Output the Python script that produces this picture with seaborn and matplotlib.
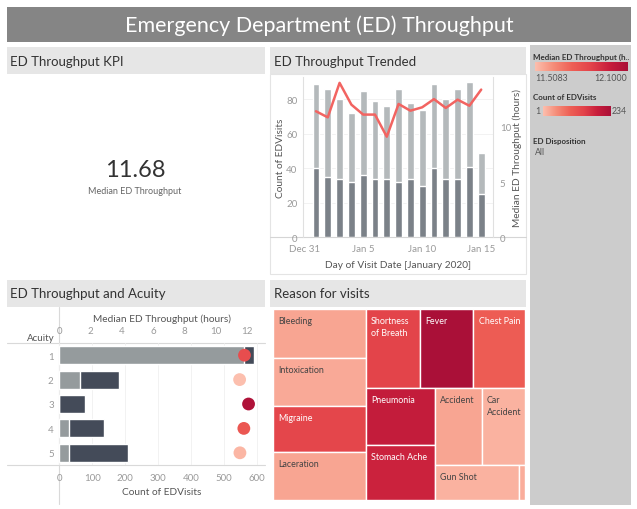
import numpy as np
import pandas as pd
import matplotlib
matplotlib.use("Agg")
import matplotlib.pyplot as plt
import seaborn as sns
from matplotlib.colors import LinearSegmentedColormap
from matplotlib.patches import Rectangle

# ---------------- data ----------------
title = "Emergency Department (ED) Throughput"

days = list(range(1, 16))                      # January 1..15, 2020 (0 = Dec 31)
day_tick_pos = [0, 5, 10, 15]
day_tick_labels = ["Dec 31", "Jan 5", "Jan 10", "Jan 15"]
visits_dark = [40, 35, 34, 32, 36, 34, 34, 32, 34, 30, 40, 34, 34, 41, 25]
visits_light = [49, 51, 46, 40, 49, 45, 42, 54, 44, 44, 49, 46, 52, 49, 24]
median_hours_daily = [11.4, 10.85, 13.97, 12.0, 11.1, 11.1, 9.1, 12.06,
                      11.45, 11.76, 12.5, 11.7, 12.45, 11.9, 13.36]

acuity_levels = ["1", "2", "3", "4", "5"]
acuity_light = [561, 63, 0, 29, 29]
acuity_dark = [31, 118, 79, 106, 181]
acuity_median_hours = [11.82, 11.51, 12.08, 11.78, 11.53]

reasons = ["Bleeding", "Intoxication", "Migraine", "Laceration",
           "Shortness of Breath", "Fever", "Chest Pain",
           "Pneumonia", "Stomach Ache", "Accident", "Car Accident",
           "Gun Shot", "Other"]
reason_counts = [114, 111, 106, 110, 107, 105, 102, 98, 95, 89, 83, 73, 5]
reason_median_hours = [11.57, 11.56, 11.85, 11.57, 11.86, 12.10, 11.76,
                       12.00, 11.97, 11.57, 11.54, 11.54, 11.55]

kpi_value = 11.68
color_min, color_max = 11.5083, 12.1000
count_min, count_max = 1, 234

# ---------------- styling ----------------
sns.set_theme(style="white")
plt.rcParams['font.family'] = ['Lato', 'DejaVu Sans']

W, H = 637, 510
fig = plt.figure(figsize=(W / 100, H / 100), dpi=100)
fig.patch.set_facecolor("white")

red_cmap = LinearSegmentedColormap.from_list(
    "tab_red", ["#fcbfae", "#f58c78", "#ee5f55", "#e3434a", "#c81e3c", "#aa1038"])
LIGHT_BAR = "#b4b9bb"
DARK_BAR = "#7b8188"
ACU_LIGHT = "#959b9d"
ACU_DARK = "#444b59"
TICK_C = "#9a9a9a"
LABEL_C = "#555555"


def px_axes(x0, y0, x1, y1, **kw):
    return fig.add_axes([x0 / W, 1 - y1 / H, (x1 - x0) / W, (y1 - y0) / H], **kw)


bg = px_axes(0, 0, W, H)
bg.set_xlim(0, W)
bg.set_ylim(H, 0)
bg.axis("off")

# title bar
bg.add_patch(Rectangle((7, 8), 624, 35, color="#858585", lw=0))
bg.text(319, 26, title, color="white", fontsize=15.5, ha="center", va="center")

# panel headers
for (hx, hy, hw, txt) in [(7, 48, 258, "ED Throughput KPI"),
                           (270, 48, 256, "ED Throughput Trended"),
                           (7, 281, 258, "ED Throughput and Acuity"),
                           (270, 281, 256, "Reason for visits")]:
    bg.add_patch(Rectangle((hx, hy), hw, 27, color="#e6e6e6", lw=0))
    bg.text(hx + 3.5, hy + 13.5, txt, fontsize=9.5, color="#333333", va="center", ha="left")

# sidebar
bg.add_patch(Rectangle((530, 46), 101, 460, color="#cccccc", lw=0))
bg.text(533, 57, "Median ED Throughput (h..", fontsize=5.8, color="#333333",
        fontweight="bold", va="center")
bg.text(535, 78.5, f"{color_min:.4f}", fontsize=6.3, color=LABEL_C, va="center")
bg.text(627, 78.5, f"{color_max:.4f}", fontsize=6.3, color=LABEL_C, va="center", ha="right")
bg.text(533, 97.5, "Count of EDVisits", fontsize=5.8, color="#333333",
        fontweight="bold", va="center")
bg.text(535, 111.5, f"{count_min}", fontsize=6.3, color=LABEL_C, va="center")
bg.text(612, 111.5, f"{count_max}", fontsize=6.3, color=LABEL_C, va="center")
bg.text(533, 141.5, "ED Disposition", fontsize=5.8, color="#333333",
        fontweight="bold", va="center")
bg.text(535, 152.5, "All", fontsize=6.3, color=LABEL_C, va="center")

grad = np.linspace(0, 1, 256)[None, :]
for (gx0, gy0, gx1, gy1) in [(535.3, 63.3, 627.3, 72.3), (543, 106.7, 610.3, 116.7)]:
    cax = px_axes(gx0, gy0, gx1, gy1)
    cax.imshow(grad, aspect="auto", cmap=red_cmap)
    cax.axis("off")

# KPI
bg.text(135, 171, f"{kpi_value:.2f}", fontsize=17, color="#333333", ha="center", va="center")
bg.text(135, 191.5, "Median ED Throughput", fontsize=6.5, color="#666666", ha="center", va="center")

# trend panel frame + bottom axis line
bg.add_patch(Rectangle((270, 75), 256, 200, fill=False, edgecolor="#e4e4e4", lw=0.8))
bg.plot([270, 526], [238.3, 238.3], color="#d5d5d5", lw=0.8)

# acuity panel lines
bg.plot([7, 265], [344, 344], color="#d9d9d9", lw=0.8)
bg.plot([7, 265], [466, 466], color="#d9d9d9", lw=0.8)
bg.plot([59.3, 59.3], [308, 505], color="#d9d9d9", lw=0.8)
bg.text(55, 339, "Acuity", fontsize=7, color=LABEL_C, ha="right", va="center")

# ---------------- trend chart ----------------
df_trend = pd.DataFrame({"day": days, "dark": visits_dark, "light": visits_light,
                         "hours": median_hours_daily})
df_trend["total"] = df_trend["dark"] + df_trend["light"]

ax = px_axes(303, 78, 493, 238.3)
ax.set_facecolor("none")
sns.barplot(data=df_trend, x="day", y="total", native_scale=True, color=LIGHT_BAR,
            saturation=1, width=0.58, errorbar=None, ax=ax)
sns.barplot(data=df_trend, x="day", y="dark", native_scale=True, color=DARK_BAR,
            saturation=1, width=0.58, errorbar=None, ax=ax)
ax.set_xlim(-0.1, 16.0)
ax.set_ylim(0, 93)
ax.set_yticks([0, 20, 40, 60, 80])
ax.set_xticks(day_tick_pos)
ax.set_xticklabels(day_tick_labels)
ax.yaxis.grid(True, color="#f0f0f0", lw=0.6)
ax.set_axisbelow(True)
ax.tick_params(axis="both", length=0, labelsize=7, labelcolor=TICK_C)
ax.tick_params(axis="x", pad=5)
ax.tick_params(axis="y", pad=4)
for s in ["top", "bottom"]:
    ax.spines[s].set_visible(False)
for s in ["left", "right"]:
    ax.spines[s].set_color("#e0e0e0")
    ax.spines[s].set_linewidth(0.8)
ax.set_xlabel("Day of Visit Date [January 2020]", fontsize=7.3, color=LABEL_C)
ax.xaxis.set_label_coords(0.5, -0.17)
ax.xaxis.label.set_va("center")
ax.set_ylabel("Count of EDVisits", fontsize=7.3, color=LABEL_C)
ax.yaxis.set_label_coords(-0.116, 0.5)
ax.yaxis.label.set_va("center")

ax2 = ax.twinx()
sns.lineplot(data=df_trend, x="day", y="hours", color="#f26461", lw=1.8, ax=ax2)
ax2.set_ylim(0, 14.5)
ax2.set_yticks([0, 5, 10])
ax2.tick_params(axis="y", length=0, labelsize=7, labelcolor=TICK_C, pad=5)
for s in ["top", "bottom", "left", "right"]:
    ax2.spines[s].set_visible(False)
ax2.set_ylabel("Median ED Throughput (hours)", fontsize=7.3, color=LABEL_C)
ax2.yaxis.set_label_coords(1.13, 0.5)
ax2.yaxis.label.set_va("center")

# ---------------- acuity chart ----------------
df_acu = pd.DataFrame({"acuity": acuity_levels, "light": acuity_light,
                       "dark": acuity_dark, "hours": acuity_median_hours})
df_acu["total"] = df_acu["light"] + df_acu["dark"]
df_acu["pos"] = np.arange(len(acuity_levels))

axa = px_axes(59.3, 344, 265, 466)
axa.set_facecolor("none")
sns.barplot(data=df_acu, y="acuity", x="total", orient="h", color=ACU_DARK,
            saturation=1, width=0.74, errorbar=None, ax=axa)
sns.barplot(data=df_acu, y="acuity", x="light", orient="h", color=ACU_LIGHT,
            saturation=1, width=0.74, errorbar=None, ax=axa)
axa.set_xlim(0, 625)
axa.set_ylim(4.5, -0.5)
axa.set_xticks([0, 100, 200, 300, 400, 500, 600])
axa.xaxis.grid(True, color="#f0f0f0", lw=0.6)
axa.set_axisbelow(True)
axa.tick_params(axis="both", length=0, labelsize=7, labelcolor=TICK_C)
axa.tick_params(axis="x", pad=6)
axa.tick_params(axis="y", pad=4)
for s in axa.spines.values():
    s.set_visible(False)
axa.set_ylabel("")
axa.set_xlabel("Count of EDVisits", fontsize=7.3, color=LABEL_C)
axa.xaxis.set_label_coords(0.5, -0.22)
axa.xaxis.label.set_va("center")

axh = axa.twiny()
sns.scatterplot(data=df_acu, x="hours", y="pos", hue="hours", palette=red_cmap,
                hue_norm=(color_min, color_max), s=85, edgecolor="none",
                legend=False, ax=axh, zorder=5)
axh.set_xlim(0, 625 / 47.6)
axh.set_ylim(4.5, -0.5)
axh.set_xticks([0, 2, 4, 6, 8, 10, 12])
axh.tick_params(axis="x", length=0, labelsize=7, labelcolor=TICK_C, pad=6)
for s in axh.spines.values():
    s.set_visible(False)
axh.set_ylabel("")
axh.set_xlabel("Median ED Throughput (hours)", fontsize=7.3, color=LABEL_C)
axh.xaxis.set_label_coords(0.5, 1.2)
axh.xaxis.label.set_va("center")

# ---------------- treemap ----------------
TM_W, TM_H = 252.3, 191.0
TM_STRIPS = [4, 3, 2, 2, 1, 1]   # items per strip, alternating along the shorter side
TM_FONT = 6.4


def strip_treemap(values, x, y, w, h, strips):
    scale = w * h / float(sum(values))
    rects, i = [], 0
    for n in strips:
        group = values[i:i + n]
        area = sum(group) * scale
        if w >= h:
            cw = area / h
            yy = y
            for v in group:
                hh = v * scale / cw
                rects.append((x, yy, cw, hh))
                yy += hh
            x += cw
            w -= cw
        else:
            rh = area / w
            xx = x
            for v in group:
                ww = v * scale / rh
                rects.append((xx, y, ww, rh))
                xx += ww
            y += rh
            h -= rh
        i += n
    return rects


renderer = fig.canvas.get_renderer()


def text_width(s):
    t = fig.text(0, 0, s, fontsize=TM_FONT)
    wpx = t.get_window_extent(renderer).width
    t.remove()
    return wpx


def wrap_label(text, width_px):
    words = text.split()
    lines, cur = [], ""
    for wd in words:
        cand = (cur + " " + wd).strip()
        if text_width(cand) > width_px - 10 and cur:
            lines.append(cur)
            cur = wd
        else:
            cur = cand
    lines.append(cur)
    return "\n".join(lines)


axt = px_axes(272.7, 310, 272.7 + TM_W, 310 + TM_H)
axt.set_xlim(0, TM_W)
axt.set_ylim(TM_H, 0)
axt.axis("off")
norm = plt.Normalize(color_min, color_max)
for (rx, ry, rw, rh), name, val in zip(strip_treemap(reason_counts, 0, 0, TM_W, TM_H, TM_STRIPS),
                                       reasons, reason_median_hours):
    axt.add_patch(Rectangle((rx, ry), rw, rh, facecolor=red_cmap(norm(val)),
                            edgecolor="white", lw=1.0))
    if rw > 25:
        tc = "white" if val > 11.7 else "#444444"
        axt.text(rx + 5.3, ry + 7, wrap_label(name, rw), fontsize=TM_FONT, color=tc,
                 ha="left", va="top", linespacing=1.45)

fig.savefig("out.png", dpi=100, facecolor="white")
